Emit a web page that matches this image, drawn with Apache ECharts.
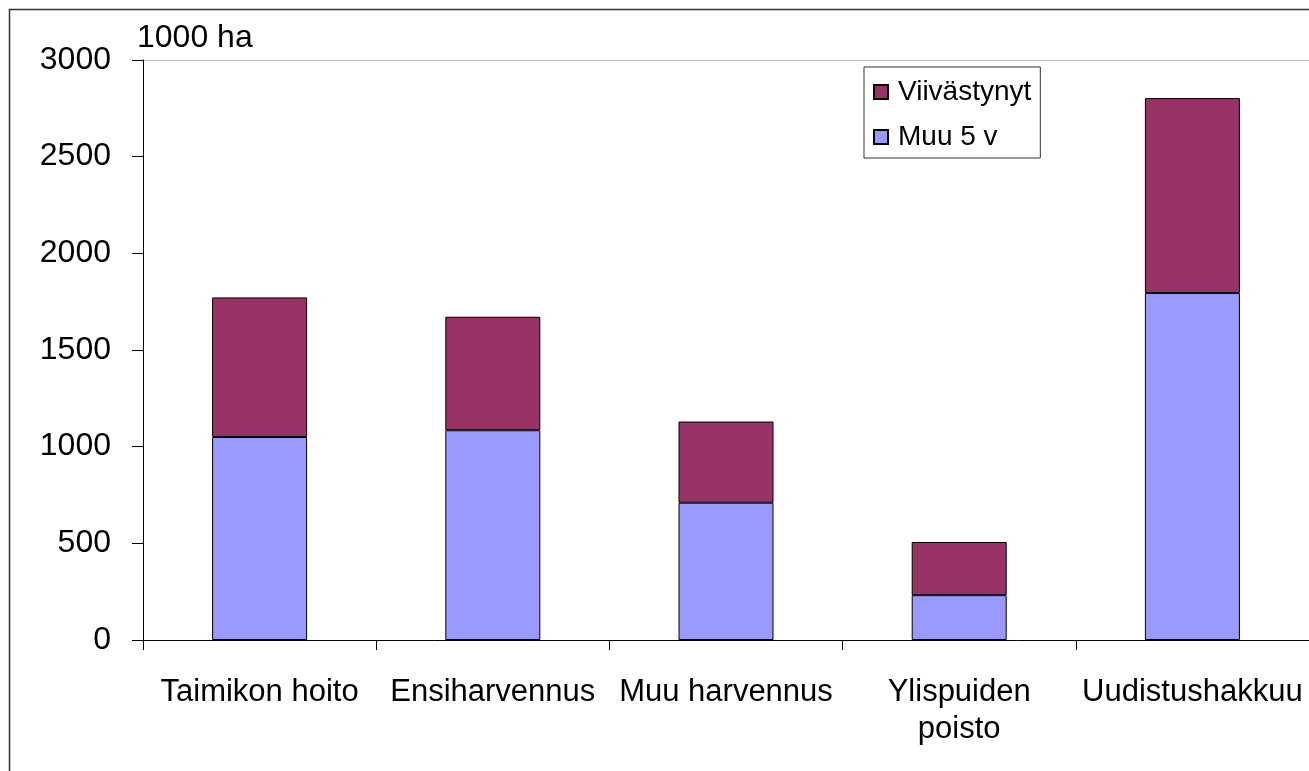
<!DOCTYPE html>
<html>
<head>
<meta charset="utf-8">
<script src="https://cdn.jsdelivr.net/npm/echarts@6/dist/echarts.min.js"></script>
<style>
html,body{margin:0;padding:0;background:#fff;}
#container1{width:1309px;height:771px;}
</style>
</head>
<body>
<div id="container1"></div>
<script>
var categories = ['Taimikon hoito', 'Ensiharvennus', 'Muu harvennus', 'Ylispuiden\npoisto', 'Uudistushakkuu'];
var muu5v = [1050, 1085, 710, 232, 1795];
var viivastynyt = [722, 587, 420, 275, 1008];
var yTicks = [0, 500, 1000, 1500, 2000, 2500, 3000];

var myChart = echarts.init(document.getElementById('container1'));
var option = {
    backgroundColor: '#fff',
    animation: false,
    textStyle: {fontFamily: 'Liberation Sans, Arial, sans-serif', color: '#000'},
    // frame round the whole chart
    graphic: [{
        type: 'rect',
        shape: {x: 9.5, y: 9.5, width: 1320, height: 780},
        style: {fill: 'none', stroke: '#333', lineWidth: 1.5},
        silent: true
    }, {
        type: 'line',
        shape: {x1: 143, y1: 60.5, x2: 1309, y2: 60.5},
        style: {stroke: '#bbb', lineWidth: 1},
        silent: true
    }],
    grid: {left: 143, top: 60, right: 0, bottom: 131},
    legend: {
        data: ['Viivästynyt', 'Muu 5 v'],
        orient: 'vertical',
        left: 864,
        top: 67,
        padding: [11, 9, 7, 9],
        itemWidth: 14,
        itemHeight: 14,
        itemGap: 17,
        borderColor: '#333',
        borderWidth: 1,
        icon: 'rect',
        textStyle: {fontSize: 28, color: '#000', padding: [0, 0, 0, 5]}
    },
    xAxis: {
        type: 'category',
        data: categories,
        axisLine: {lineStyle: {color: '#000', width: 1}},
        axisTick: {show: true, length: 10, lineStyle: {color: '#000'}},
        axisLabel: {fontSize: 31, color: '#000', margin: 34, lineHeight: 37, interval: 0}
    },
    yAxis: {
        type: 'value',
        min: 0,
        max: 3000,
        interval: 500,
        name: '1000 ha',
        nameLocation: 'end',
        nameGap: 6,
        nameTextStyle: {fontSize: 32, color: '#000', align: 'left', padding: [0, 0, 0, -6]},
        axisLine: {show: true, lineStyle: {color: '#000', width: 1}},
        axisTick: {show: true, length: 11, lineStyle: {color: '#000'}},
        axisLabel: {
            fontSize: 32, color: '#000', margin: 32, padding: [4, 0, 0, 0],
            formatter: function (v) { return yTicks.indexOf(v) >= 0 ? String(v) : ''; }
        },
        splitLine: {show: false}
    },
    series: [{
        name: 'Muu 5 v',
        type: 'bar',
        stack: 'a',
        barWidth: 95,
        data: muu5v,
        itemStyle: {color: '#9999FF', borderColor: '#000', borderWidth: 1}
    }, {
        name: 'Viivästynyt',
        type: 'bar',
        stack: 'a',
        barWidth: 95,
        data: viivastynyt,
        itemStyle: {color: '#993366', borderColor: '#000', borderWidth: 1}
    }]
};
myChart.setOption(option, true);
</script>
</body>
</html>
